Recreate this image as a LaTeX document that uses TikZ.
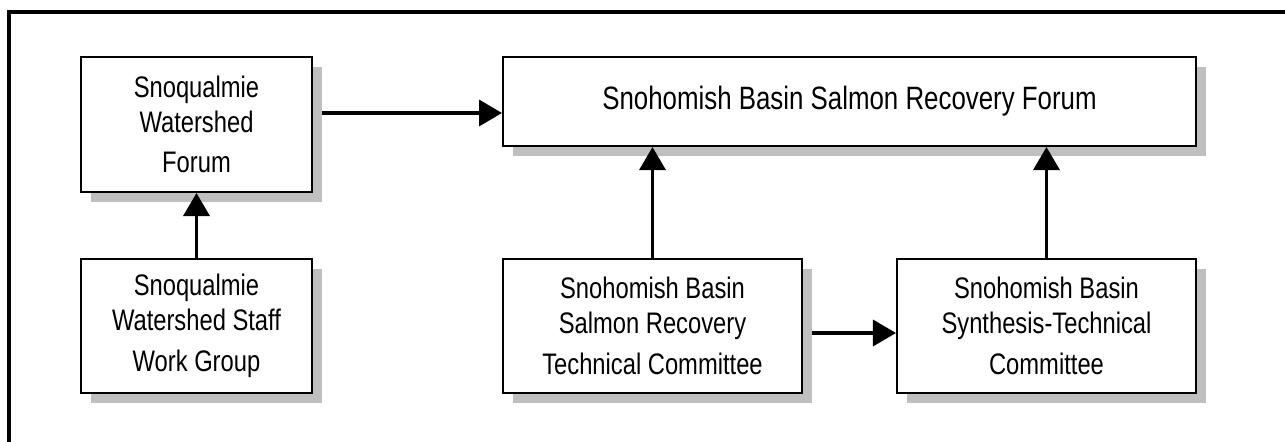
\documentclass[tikz,border=0pt]{standalone}
\usepackage{fontspec}
\setmainfont{Liberation Sans}[FakeStretch=0.8]
\usetikzlibrary{arrows.meta,shadows}

\tikzset{
  box/.style={draw,line width=1.2pt,fill=white,inner sep=0pt,align=center,
    minimum height=2.68cm,
    drop shadow={shadow xshift=0.2cm,shadow yshift=-0.2cm,fill=black!25,opacity=1},
    font=\fontsize{16.9}{19.8}\selectfont},
  conn/.style={line width=2pt,-{Triangle[length=0.46cm,width=0.52cm]}},
  frame/.style={line width=1.8pt}
}

\begin{document}
\begin{tikzpicture}[x=0.02cm,y=-0.02cm]
\useasboundingbox (0,0) rectangle (1285,442);

\draw[frame] (1290,12) -- (9,12) -- (9,447);

% boxes
\node[box,minimum width=4.62cm,minimum height=2.7cm] (swf) at (196.5,124.5)
  {Snoqualmie\\Watershed\\[3.4pt]Forum};
\node[box,minimum width=4.62cm] (swswg) at (196.5,326)
  {Snoqualmie\\Watershed Staff\\[3.4pt]Work Group};
\node[box,minimum width=13.86cm,minimum height=1.78cm,font=\fontsize{18.4}{20}\selectfont] (rf) at (849.5,101.5)
  {Snohomish Basin Salmon Recovery Forum};
\node[box,minimum width=5.98cm] (rtc) at (652.5,326)
  {Snohomish Basin\\Salmon Recovery\\[3.4pt]Technical Committee};
\node[box,minimum width=5.98cm] (stc) at (1046.5,326)
  {Snohomish Basin\\Synthesis-Technical\\[3.4pt]Committee};

% arrows
\coordinate (a1) at (322,113);
\coordinate (a2) at (812,333);
\draw[conn] (a1) -- (a1 -| rf.west);
\draw[conn] (swswg.north) -- (swf.south);
\draw[conn] (rtc.north) -- (rtc.north |- rf.south);
\draw[conn] (stc.north) -- (stc.north |- rf.south);
\draw[conn] (a2) -- (a2 -| stc.west);
\end{tikzpicture}
\end{document}
